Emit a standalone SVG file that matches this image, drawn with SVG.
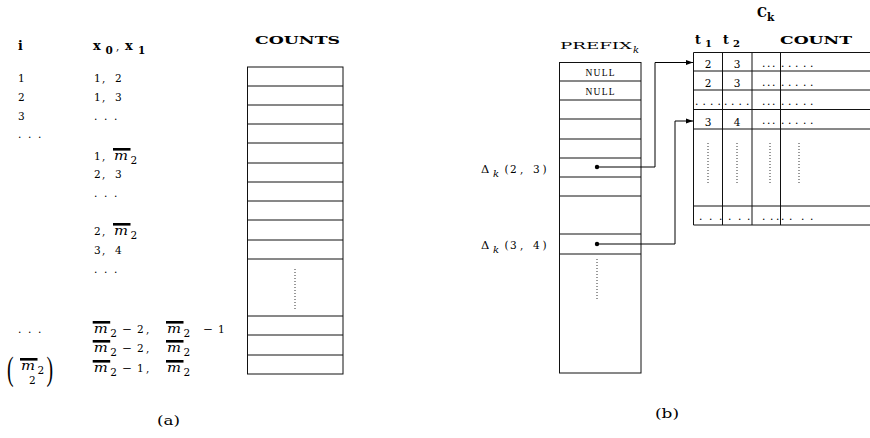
<svg xmlns="http://www.w3.org/2000/svg" width="870" height="438" viewBox="0 0 870 438">
<style>
  text { font-family: "DejaVu Serif", "Liberation Serif", serif; font-size: 10.5px; fill: #000; }
  .bx { font-weight: bold; }
  .it { font-style: italic; }
  .m { font-style: italic; font-size: 12px; }
  .grid { fill: none; stroke: #111; stroke-width: 1; }
  .dots { fill: none; stroke: #333; stroke-width: 1; stroke-dasharray: 1 2; }
  .bar { fill: #000; }
  .cap { font-size: 12.5px; }
  .null { font-family: "Liberation Serif", serif; font-size: 9.5px; text-anchor: middle; }
  .mid { text-anchor: middle; }
  .link { fill: none; stroke: #000; stroke-width: 1; }
  .paren { font-family: "Liberation Serif", serif; font-size: 33px; }
</style>
<defs>
  <marker id="arr" markerWidth="8" markerHeight="6" refX="7" refY="3" orient="auto" markerUnits="userSpaceOnUse">
    <path d="M0,0.6 L7,3 L0,5.4 z" fill="#000"/>
  </marker>
  <!-- m-bar with subscript 2 -->
  <g id="mbar">
    <rect class="bar" x="0" y="-12" width="17.5" height="2.6"/>
    <text class="m" x="1" y="0" textLength="14" lengthAdjust="spacingAndGlyphs">m</text>
    <text x="17.5" y="3.5">2</text>
  </g>
</defs>

<!-- (a) index column -->
<g id="index-col">
  <text class="bx" x="18" y="50" style="font-size:12.5px">i</text>
  <text x="18" y="82">1</text>
  <text x="18" y="101">2</text>
  <text x="18" y="120">3</text>
  <text x="18 28 38" y="138">...</text>
  <text x="18 28 38" y="333">...</text>
  <!-- binomial (m-bar 2 choose 2) -->
  <text class="paren" transform="translate(7,380) scale(0.6,1)">(</text>
  <use href="#mbar" x="20" y="370"/>
  <text x="29" y="383.5">2</text>
  <text class="paren" transform="translate(46.5,380) scale(0.6,1)">)</text>
</g>

<!-- (a) pair column -->
<g id="pair-col">
  <text class="bx" x="93" y="50" style="font-size:13px">x</text>
  <text class="bx" x="105.5" y="53.5" style="font-size:10.5px">0</text>
  <text x="116" y="50">,</text>
  <text class="bx" x="125" y="50" style="font-size:13px">x</text>
  <text class="bx" x="138" y="53.5" style="font-size:10.5px">1</text>

  <text x="94 102 115" y="82">1,2</text>
  <text x="94 102 115" y="101">1,3</text>
  <text x="94 104 114" y="120">...</text>
  <text x="94 102" y="160">1,</text>
  <use href="#mbar" x="113" y="160"/>
  <text x="94 102 115" y="178">2,3</text>
  <text x="94 104 114" y="197">...</text>
  <text x="94 102" y="235">2,</text>
  <use href="#mbar" x="113" y="235"/>
  <text x="94 102 115" y="254">3,4</text>
  <text x="94 104 114" y="273">...</text>

  <use href="#mbar" x="92.7" y="333"/>
  <text x="122" y="333" textLength="10" lengthAdjust="spacingAndGlyphs">−</text>
  <text x="137 146" y="333">2,</text>
  <use href="#mbar" x="166" y="333"/>
  <text x="203" y="333" textLength="10" lengthAdjust="spacingAndGlyphs">−</text>
  <text x="218" y="333">1</text>

  <use href="#mbar" x="92.7" y="352"/>
  <text x="122" y="352" textLength="10" lengthAdjust="spacingAndGlyphs">−</text>
  <text x="137 146" y="352">2,</text>
  <use href="#mbar" x="166" y="352"/>

  <use href="#mbar" x="92.7" y="372"/>
  <text x="122" y="372" textLength="10" lengthAdjust="spacingAndGlyphs">−</text>
  <text x="137 146" y="372">1,</text>
  <use href="#mbar" x="166" y="372"/>
</g>

<!-- (a) COUNTS array -->
<g id="counts">
  <text class="bx" x="255" y="43.5" style="font-size:11.5px" textLength="85" lengthAdjust="spacingAndGlyphs">COUNTS</text>
  <rect class="grid" x="247.5" y="67" width="95.5" height="307"/>
  <path class="grid" d="M247.5,86H343 M247.5,105H343 M247.5,124H343 M247.5,143H343 M247.5,163H343 M247.5,182H343 M247.5,201H343 M247.5,220H343 M247.5,240H343 M247.5,259H343 M247.5,316H343 M247.5,335H343 M247.5,355H343"/>
  <line class="dots" x1="295" y1="269" x2="295" y2="310"/>
</g>

<text x="157" y="425" class="cap" textLength="23" lengthAdjust="spacingAndGlyphs">(a)</text>

<!-- (b) PREFIX_k array -->
<g id="prefix">
  <text x="560" y="49" style="font-size:9.5px" textLength="72" lengthAdjust="spacingAndGlyphs">PREFIX</text>
  <text class="it" x="633" y="52.5" style="font-size:10px">k</text>
  <rect class="grid" x="559.5" y="62.5" width="81.5" height="310.5"/>
  <path class="grid" d="M559.5,81H641 M559.5,100H641 M559.5,119H641 M559.5,139H641 M559.5,158H641 M559.5,177H641 M559.5,196H641 M559.5,234H641 M559.5,254H641"/>
  <text class="null" x="600" y="75.5" textLength="29" lengthAdjust="spacing">NULL</text>
  <text class="null" x="600" y="94.5" textLength="29" lengthAdjust="spacing">NULL</text>
  <line class="dots" x1="597" y1="259" x2="597" y2="300"/>
  <circle cx="597" cy="167" r="2.2" fill="#000"/>
  <circle cx="597" cy="244" r="2.2" fill="#000"/>
</g>

<g id="delta-labels">
  <text x="481" y="173" style="font-size:11.5px">Δ</text>
  <text class="it" x="493" y="176.5" style="font-size:10px">k</text>
  <text x="504.5 510 520 533 542.5" y="173">(2,3)</text>
  <text x="481" y="249" style="font-size:11.5px">Δ</text>
  <text class="it" x="493" y="252.5" style="font-size:10px">k</text>
  <text x="504.5 510 520 533 542.5" y="249">(3,4)</text>
</g>

<!-- (b) C_k table -->
<g id="ck">
  <text class="bx" x="757" y="17" style="font-size:12.5px">C</text>
  <text class="bx" x="767" y="21" style="font-size:10.5px">k</text>
  <text class="bx" x="695" y="44" style="font-size:12.5px">t</text>
  <text class="bx" x="705" y="47" style="font-size:10px">1</text>
  <text class="bx" x="723" y="44" style="font-size:12.5px">t</text>
  <text class="bx" x="733" y="47" style="font-size:10px">2</text>
  <text class="bx" x="780" y="44" style="font-size:10.5px" textLength="72" lengthAdjust="spacingAndGlyphs">COUNT</text>

  <path class="grid" d="M693.5,52.5V225 M722.5,52.5V225 M752,52.5V225 M780.5,52.5V225"/>
  <path class="grid" d="M693.5,52.5H870 M693.5,71H870 M693.5,90H870 M693.5,109.5H870 M693.5,129H870 M693.5,206H870 M693.5,225H870"/>

  <text class="mid" x="708" y="68">2</text>
  <text class="mid" x="737" y="68">3</text>
  <text x="762 767 772 781 788 795 803 810" y="67">........</text>

  <text class="mid" x="708" y="87">2</text>
  <text class="mid" x="737" y="87">3</text>
  <text x="762 767 772 781 788 795 803 810" y="86">........</text>

  <text x="695 702.5 710 717.5 724 731 738.5 746 762 767 772 781 788 795 803 810" y="105">................</text>

  <text class="mid" x="708" y="126">3</text>
  <text class="mid" x="737" y="126">4</text>
  <text x="762 767 772 781 788 795 803 810" y="124">........</text>

  <line class="dots" x1="708" y1="143" x2="708" y2="184"/>
  <line class="dots" x1="737" y1="143" x2="737" y2="184"/>
  <line class="dots" x1="770" y1="143" x2="770" y2="184"/>
  <line class="dots" x1="799" y1="143" x2="799" y2="184"/>

  <text x="699 709 719 728 738 747 762 770 776 781 789 801 810" y="220">.............</text>
</g>

<text x="655" y="418" class="cap" textLength="24" lengthAdjust="spacingAndGlyphs">(b)</text>

<!-- pointers from PREFIX_k into C_k -->
<g id="connectors">
  <polyline class="link" points="597,167 655,167 655,62.5 693,62.5" marker-end="url(#arr)"/>
  <polyline class="link" points="597,244 675,244 675,121 693,121" marker-end="url(#arr)"/>
</g>
</svg>
